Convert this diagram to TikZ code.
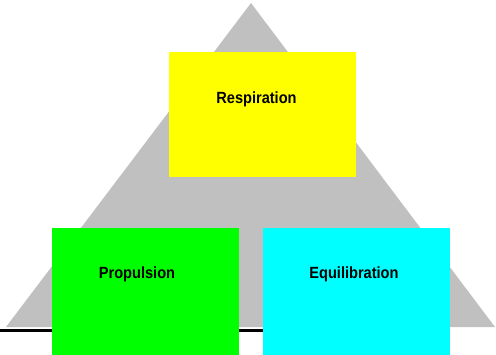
\documentclass[tikz,border=0pt]{standalone}
\usepackage{fontspec}
\setmainfont{Liberation Sans}
\newfontfamily\lblfont{Liberation Sans}[FakeStretch=0.9]
\definecolor{trigray}{RGB}{192,192,192}
\definecolor{boxyellow}{RGB}{255,255,0}
\definecolor{boxgreen}{RGB}{0,255,0}
\definecolor{boxcyan}{RGB}{0,255,255}
\begin{document}
\begin{tikzpicture}[x=1pt,y=-1pt,
  box/.style={draw=none,inner sep=0pt,outer sep=0pt,anchor=north west},
  label/.style={inner sep=0pt,font=\lblfont\fontsize{16.2}{18}\selectfont\bfseries}]
\useasboundingbox (0,0) rectangle (496,354);
\coordinate (apex) at (251,3);
\coordinate (bl) at (6,327);
\coordinate (br) at (495,327);
\fill[trigray] (apex) -- (bl) -- (br) -- cycle;
\coordinate (lineL) at (0,330.5);
\coordinate (lineR) at (280,330.5);
\draw[black,line width=2.6pt] (lineL) -- (lineR);
\node[box,fill=boxyellow,minimum width=187pt,minimum height=125pt] (resp) at (169,52) {};
\node[box,fill=boxgreen,minimum width=187pt,minimum height=130pt] (prop) at (52,228) {};
\node[box,fill=boxcyan,minimum width=187pt,minimum height=130pt] (equi) at (263,228) {};
\node[label] (respT) at (256.5,99) {Respiration};
\node[label] (propT) at (137,274) {Propulsion};
\node[label] (equiT) at (354,274) {Equilibration};
\end{tikzpicture}
\end{document}
